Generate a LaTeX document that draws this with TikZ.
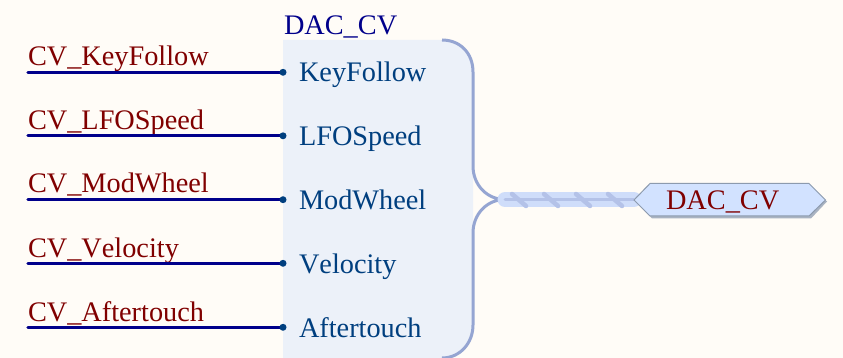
\documentclass[tikz,border=0pt]{standalone}
\usepackage{fontspec}
\setmainfont[Kerning=Off]{Liberation Serif}
\definecolor{bgc}{HTML}{FFFCF7}
\definecolor{bodyc}{HTML}{ECF1F9}
\definecolor{edgec}{HTML}{95A5D2}
\definecolor{wirec}{HTML}{00008B}
\definecolor{dotc}{HTML}{003F7F}
\definecolor{netc}{HTML}{800000}
\definecolor{busbg}{HTML}{CFDDFA}
\definecolor{busfg}{HTML}{B4C2E8}
\definecolor{hexfill}{HTML}{D2E2FF}
\definecolor{hexedge}{HTML}{8C9AAE}
\definecolor{hexshadow}{HTML}{A9B3C2}
\tikzset{
  txt/.style={inner sep=0pt,outer sep=0pt,anchor=base west,font=\fontsize{28.3}{30}\selectfont},
  netlabel/.style={txt,text=netc},
  pinlabel/.style={txt,text=dotc},
  sheetlabel/.style={txt,text=wirec},
  wire/.style={draw=wirec,line width=3.2pt,line cap=round},
  pindot/.style={circle,fill=dotc,inner sep=0pt,minimum size=7pt},
  sheetedge/.style={draw=edgec,line width=3pt},
  busband/.style={draw=busbg,line width=15pt,line cap=round},
  busline/.style={draw=busfg,line width=3pt,line cap=round}
}
\begin{document}
\begin{tikzpicture}[x=1pt,y=-1pt]
\useasboundingbox[fill=bgc] (0,0) rectangle (843,358);
% sheet symbol body
\fill[bodyc] (283,40) -- (442,40) .. controls (460,40) and (473,53) .. (473,72)
  -- (473,358) -- (283,358) -- cycle;
\fill[bgc] (474.5,325) .. controls (474.5,343) and (462,358) .. (442,358) -- (474.5,358) -- cycle;
\draw[sheetedge] (442,40) .. controls (460,40) and (473,53) .. (473,72) -- (473,166)
  .. controls (473,185) and (487,199.5) .. (505,199.5)
  .. controls (487,199.5) and (473,214) .. (473,233) -- (473,325)
  .. controls (473,343) and (460,358) .. (442,358);
% bus
\coordinate (busstart) at (505,199.5);
\coordinate (busend) at (634,199.5);
\draw[busband] (busstart) -- (busend);
\draw[busline] (busstart) -- (busend);
\foreach \hx in {512,544,576,608}
  \draw[draw=busfg,line width=4.5pt,line cap=round] (\hx,194) -- (\hx+14,206);
% port
\fill[hexshadow] (635,201) -- (652,218.5) -- (811,218.5) -- (827,201.5) -- (810,185) -- (652,185) -- cycle;
\draw[draw=hexedge,fill=hexfill,line width=1pt] (634,200) -- (650,183.5) -- (809,183.5) -- (825.5,200) -- (809,216) -- (650,216) -- cycle;
\node[netlabel] (port) at (666,209.3) {DAC\_CV};
% sheet name
\node[sheetlabel] (sheetname) at (284,34.5) {DAC\_CV};
% net labels
\node[netlabel] (n1) at (28,66) {CV\_KeyFollow};
\node[netlabel] (n2) at (28,129.5) {CV\_LFOSpeed};
\node[netlabel] (n3) at (28,193) {CV\_ModWheel};
\node[netlabel] (n4) at (28,257) {CV\_Velocity};
\node[netlabel] (n5) at (28,321) {CV\_Aftertouch};
% entries
\node[pinlabel] (e1) at (299,82) {KeyFollow};
\node[pinlabel] (e2) at (299,145.7) {LFOSpeed};
\node[pinlabel] (e3) at (299,209.5) {ModWheel};
\node[pinlabel] (e4) at (299,273.3) {Velocity};
\node[pinlabel] (e5) at (299,337.2) {Aftertouch};
% wires
\foreach \i/\wy in {1/72.3,2/135.8,3/199.7,4/263.3,5/327.3}{
  \coordinate (w\i) at (28,\wy);
  \coordinate (c\i) at (283,\wy);
  \draw[wire] (w\i) -- (c\i);
  \node[pindot] (p\i) at (c\i) {};
}
\end{tikzpicture}
\end{document}
